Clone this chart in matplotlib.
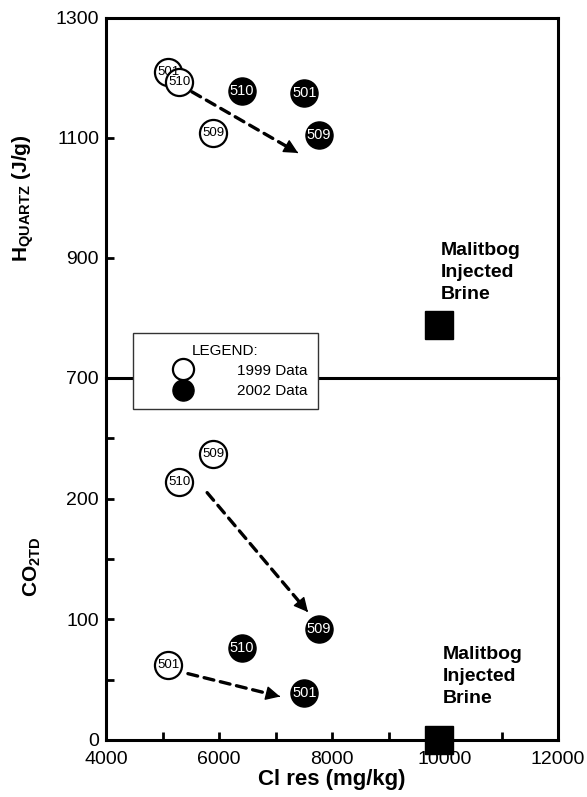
import matplotlib
matplotlib.use('Agg')
import matplotlib.pyplot as plt
from matplotlib.lines import Line2D
from matplotlib import font_manager

plt.rcParams['font.family'] = ['Liberation Sans', 'DejaVu Sans']
plt.rcParams['mathtext.fontset'] = 'custom'
plt.rcParams['mathtext.rm'] = 'Liberation Sans'
plt.rcParams['mathtext.bf'] = 'Liberation Sans:bold'

names = {f.name for f in font_manager.fontManager.ttflist}
narrow = 'Liberation Sans Narrow' if 'Liberation Sans Narrow' in names else 'Liberation Sans'

# data
wells = ['501', '510', '509']
cl_1999 = [5100, 5300, 5900]
cl_2002 = [7510, 6400, 7770]
hq_1999 = [1210, 1193, 1108]
hq_2002 = [1175, 1178, 1105]
co2_1999 = [62, 214, 237]
co2_2002 = [39, 76, 92]

brine_cl = 9900
brine_hq = 788
brine_co2 = 0

# arrows: (start cl, start y, end cl, end y)
arrows_top = [(5520, 1177, 7400, 1075)]
arrows_bot = [(5790, 205, 7575, 106), (5450, 55, 7080, 36)]

fig = plt.figure(figsize=(5.87, 7.97), dpi=100)
L, W = 106 / 587, 452 / 587
ax1 = fig.add_axes([L, 1 - 378 / 797, W, 360 / 797])
ax2 = fig.add_axes([L, 1 - 740 / 797, W, 362 / 797], sharex=ax1)
ax2.patch.set_alpha(0)

for ax in (ax1, ax2):
    for s in ax.spines.values():
        s.set_linewidth(2.2)
    ax.tick_params(direction='in', length=6, width=2, labelsize=14, pad=5)
ax2.spines['top'].set_visible(False)
ax2.tick_params(axis='x', pad=8)

ax1.set_xlim(4000, 12000)
ax1.set_ylim(700, 1300)
ax1.set_yticks([700, 900, 1100, 1300])
ax1.tick_params(axis='x', which='both', bottom=False, labelbottom=False)

ax2.set_ylim(0, 300)
ax2.set_yticks([0, 50, 100, 150, 200, 250])
ax2.set_yticklabels(['0', '', '100', '', '200', ''])
ax2.set_xticks(range(4000, 12001, 1000))
ax2.set_xticklabels(['4000', '', '6000', '', '8000', '', '10000', '', '12000'])

ms = 19.5


def draw_points(ax, ys_open, ys_fill):
    for cl, y, w in zip(cl_1999, ys_open, wells):
        ax.plot(cl, y, 'o', ms=ms, mfc='white', mec='black', mew=1.6, zorder=4)
        ax.text(cl, y, w, ha='center', va='center', fontsize=9.5, family=narrow, zorder=5)
    for cl, y, w in zip(cl_2002, ys_fill, wells):
        ax.plot(cl, y, 'o', ms=ms, mfc='black', mec='black', zorder=4)
        ax.text(cl, y, w, ha='center', va='center', fontsize=10.5, family=narrow,
                color='white', zorder=5)


draw_points(ax1, hq_1999, hq_2002)
draw_points(ax2, co2_1999, co2_2002)

for ax, arrs in ((ax1, arrows_top), (ax2, arrows_bot)):
    for x0, y0, x1, y1 in arrs:
        # dashed shaft
        ax.annotate('', xy=(x1, y1), xytext=(x0, y0),
                    arrowprops=dict(arrowstyle='-', color='black', lw=2.4,
                                    linestyle=(0, (3, 2)), shrinkA=0, shrinkB=8))
        # solid head
        hx = x1 - 0.01 * (x1 - x0)
        hy = y1 - 0.01 * (y1 - y0)
        ax.annotate('', xy=(x1, y1), xytext=(hx, hy),
                    arrowprops=dict(arrowstyle='-|>', color='black', lw=1,
                                    mutation_scale=22, shrinkA=0, shrinkB=0))

ax1.plot(brine_cl, brine_hq, 's', ms=20, color='black', zorder=4)
ax2.plot(brine_cl, brine_co2, 's', ms=20, color='black', zorder=6, clip_on=False)
ax1.text(9930, 927, 'Malitbog\nInjected\nBrine', ha='left', va='top', fontsize=14,
         fontweight='bold', linespacing=1.4)
ax2.text(9960, 78, 'Malitbog\nInjected\nBrine', ha='left', va='top', fontsize=14,
         fontweight='bold', linespacing=1.4)

ax1.set_ylabel(r'$\mathbf{H}_{\mathbf{QUARTZ}}$' + ' (J/g)', fontsize=15, fontweight='bold')
ax2.set_ylabel(r'$\mathbf{CO}_{\mathbf{2TD}}$', fontsize=15)
ax1.yaxis.set_label_coords(-0.155, 0.5)
ax2.yaxis.set_label_coords(-0.14, 0.48)
ax2.set_xlabel('Cl res (mg/kg)', fontsize=16, fontweight='bold', labelpad=1)

handles = [Line2D([], [], ls='', marker='o', ms=ms, mfc='white', mec='black', mew=1.6),
           Line2D([], [], ls='', marker='o', ms=ms, mfc='black', mec='black')]
leg = fig.legend(handles, ['1999 Data', '2002 Data'], title='LEGEND:',
                 loc='upper left', bbox_to_anchor=(133 / 587, 1 - 333 / 797),
                 borderaxespad=0, fontsize=11, title_fontsize=11, markerscale=0.78,
                 handlelength=5.1, handletextpad=1.0, labelspacing=0.4,
                 borderpad=0.7, fancybox=False, edgecolor='#333333', framealpha=1)
leg.get_frame().set_linewidth(1)

fig.savefig('out.png', dpi=100)
